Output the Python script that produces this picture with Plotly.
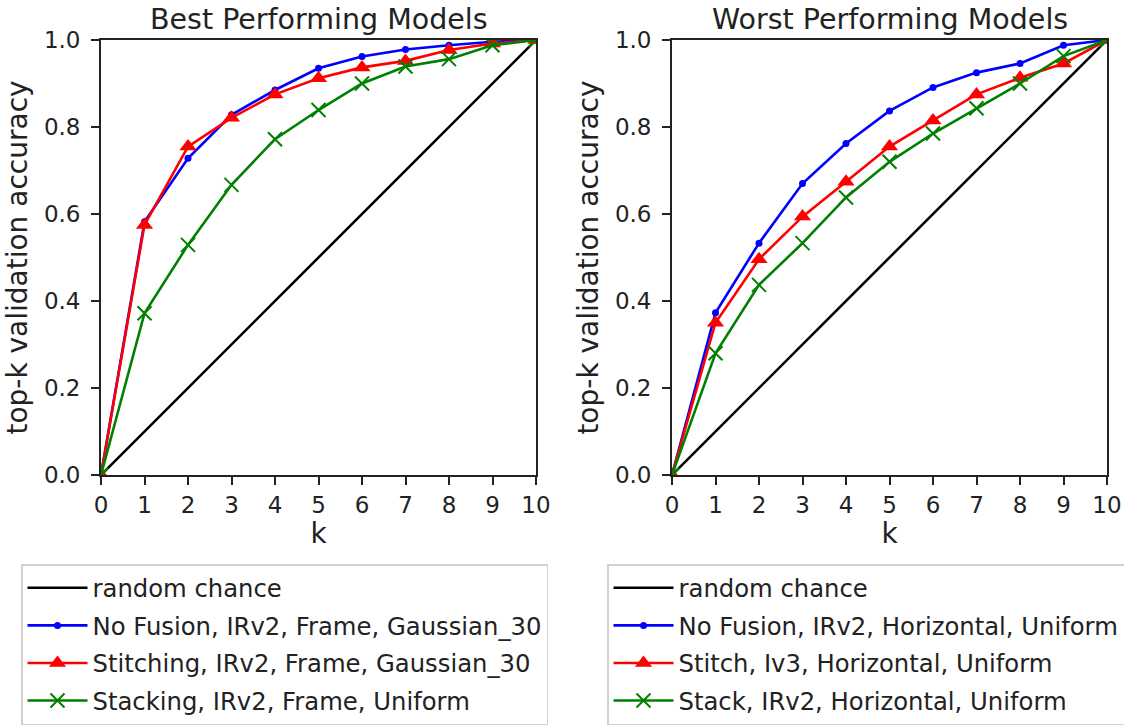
import plotly.graph_objects as go

k = [0, 1, 2, 3, 4, 5, 6, 7, 8, 9, 10]
chance = [0.0, 0.1, 0.2, 0.3, 0.4, 0.5, 0.6, 0.7, 0.8, 0.9, 1.0]

best_titles = "Best Performing Models"
worst_titles = "Worst Performing Models"

best_names = ["No Fusion, IRv2, Frame, Gaussian_30",
              "Stitching, IRv2, Frame, Gaussian_30",
              "Stacking, IRv2, Frame, Uniform"]
best_nofusion = [0.0, 0.582, 0.728, 0.828, 0.885, 0.935, 0.962, 0.978, 0.988, 0.996, 1.0]
best_stitch = [0.0, 0.575, 0.755, 0.821, 0.875, 0.912, 0.937, 0.952, 0.977, 0.992, 1.0]
best_stack = [0.0, 0.372, 0.529, 0.667, 0.772, 0.839, 0.900, 0.939, 0.956, 0.988, 1.0]

worst_names = ["No Fusion, IRv2, Horizontal, Uniform",
               "Stitch, Iv3, Horizontal, Uniform",
               "Stack, IRv2, Horizontal, Uniform"]
worst_nofusion = [0.0, 0.373, 0.533, 0.670, 0.762, 0.837, 0.891, 0.925, 0.946, 0.988, 1.0]
worst_stitch = [0.0, 0.350, 0.496, 0.594, 0.674, 0.755, 0.815, 0.875, 0.913, 0.946, 1.0]
worst_stack = [0.0, 0.280, 0.437, 0.533, 0.638, 0.720, 0.785, 0.843, 0.900, 0.963, 1.0]

W, H = 1124, 725
FONT = "DejaVu Sans"
FS = 23
LFS = 24.3
LW = 2.6

fig = go.Figure()

styles = [
    dict(color="#0000ff", symbol="circle", size=7, lw=0),
    dict(color="#ff0000", symbol="triangle-up", size=15, lw=0),
    dict(color="#008000", symbol="x-thin", size=14, lw=2),
]

def add_panel(xa, ya, leg, names, series, tag):
    fig.add_trace(go.Scatter(x=k, y=chance, mode="lines", name="random chance",
                             line=dict(color="#000000", width=LW),
                             xaxis=xa, yaxis=ya, legend=leg, legendgroup=tag + "0"))
    for i, (nm, s, st) in enumerate(zip(names, series, styles)):
        fig.add_trace(go.Scatter(
            x=k, y=s, mode="lines+markers", name=nm,
            line=dict(color=st["color"], width=LW),
            marker=dict(color=st["color"], symbol=st["symbol"], size=st["size"],
                        line=dict(color=st["color"], width=st["lw"])),
            xaxis=xa, yaxis=ya, legend=leg, legendgroup=tag + str(i + 1)))

add_panel("x", "y", "legend", best_names, [best_nofusion, best_stitch, best_stack], "b")
add_panel("x2", "y2", "legend2", worst_names, [worst_nofusion, worst_stitch, worst_stack], "w")

axis_common = dict(showgrid=False, zeroline=False, showline=True, linecolor="#222222",
                   linewidth=1.8, mirror=True, ticks="outside", ticklen=8, tickwidth=1.8,
                   tickcolor="#222222", tickfont=dict(family=FONT, size=FS, color="#222222"))

y_top = 1 - 40 / H
y_bot = 1 - 475 / H

legend_common = dict(y=1 - 564 / H, xanchor="left", yanchor="top",
                     bordercolor="#d0d0d0", borderwidth=1.5, bgcolor="white",
                     font=dict(family=FONT, size=LFS, color="#222222"), itemwidth=60,
                     tracegroupgap=3, groupclick="toggleitem")

fig.update_layout(
    width=W, height=H,
    margin=dict(l=0, r=0, t=0, b=0, autoexpand=False),
    paper_bgcolor="white", plot_bgcolor="white",
    font=dict(family=FONT, size=FS, color="#222222"),
    xaxis=dict(domain=[101 / W, 536 / W], range=[0, 10], dtick=1, anchor="y",
               title=dict(text="k", standoff=4), **axis_common),
    yaxis=dict(domain=[y_bot, y_top], range=[0, 1], dtick=0.2, tickformat=".1f", anchor="x",
               ticklabelstandoff=6,
               title=dict(text="top-k validation accuracy", standoff=8), **axis_common),
    xaxis2=dict(domain=[672 / W, 1107 / W], range=[0, 10], dtick=1, anchor="y2",
                title=dict(text="k", standoff=4), **axis_common),
    yaxis2=dict(domain=[y_bot, y_top], range=[0, 1], dtick=0.2, tickformat=".1f", anchor="x2",
                ticklabelstandoff=6,
                title=dict(text="top-k validation accuracy", standoff=8), **axis_common),
    legend=dict(x=21 / W, **legend_common),
    legend2=dict(x=607 / W, **legend_common),
    annotations=[
        dict(text=best_titles, xref="x domain", yref="y domain", x=0.5, y=1, yshift=2,
             xanchor="center", yanchor="bottom", showarrow=False,
             font=dict(family=FONT, size=28.5, color="#222222")),
        dict(text=worst_titles, xref="x2 domain", yref="y2 domain", x=0.5, y=1, yshift=2,
             xanchor="center", yanchor="bottom", showarrow=False,
             font=dict(family=FONT, size=28.5, color="#222222")),
    ],
)

fig.write_html("out.html")
